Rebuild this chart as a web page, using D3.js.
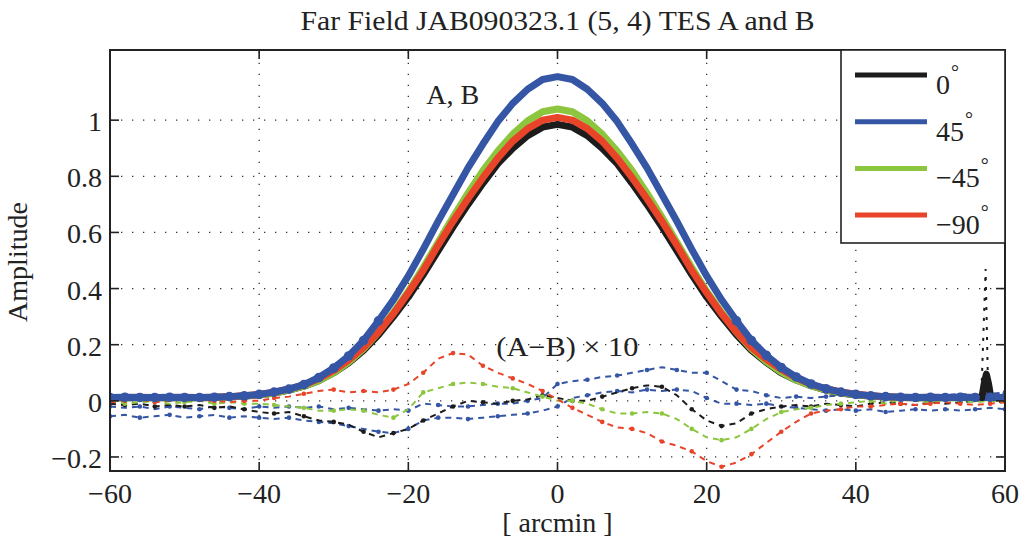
<!DOCTYPE html>
<html lang="en">
<head>
<meta charset="UTF-8">
<title>Far Field JAB090323.1 (5, 4) TES A and B</title>
<style>
    body{ margin:0; background:#fff; }
    svg text{ font-family:"Liberation Serif","Times New Roman",Times,serif; fill:#222; }
    .grid line{ stroke:#333; stroke-width:1.3; stroke-dasharray:1.3,9.7; }
    .frame{ fill:none; stroke:#222; stroke-width:2; }
    .tick{ stroke:#222; stroke-width:1.6; }
    .beam{ fill:none; stroke-width:7; stroke-linejoin:round; stroke-linecap:round; }
    .diff{ fill:none; stroke-width:2; stroke-dasharray:6,5; }
</style>
</head>
<body>
<svg width="1024" height="537"></svg>
<script src="https://d3js.org/d3.v7.min.js"></script>
<script>
// sample positions [arcmin]
var xs = d3.range(-60, 61, 2);

// beam amplitude, A and B, one array per rotation
var beam0 = [0.011,0.012,0.011,0.011,0.012,0.011,0.011,0.012,0.014,0.017,0.021,0.028,0.038,0.052,0.072,0.10,0.135,0.18,0.235,0.30,0.37,0.45,0.535,0.62,0.70,0.775,0.845,0.90,0.945,0.975,0.985,
             0.975,0.945,0.90,0.845,0.775,0.70,0.62,0.535,0.45,0.37,0.30,0.235,0.18,0.137,0.10,0.074,0.054,0.038,0.028,0.021,0.017,0.014,0.012,0.011,0.012,0.011,0.012,0.012,0.012,0.011];
var beam0Spike = [[56.9,0.012],[57.2,0.06],[57.5,0.095],[57.8,0.06],[58.1,0.012]];
var beam45 = [0.012,0.013,0.012,0.012,0.013,0.012,0.012,0.013,0.015,0.018,0.023,0.031,0.042,0.058,0.083,0.117,0.16,0.215,0.285,0.36,0.445,0.54,0.64,0.735,0.83,0.915,0.995,1.06,1.11,1.145,1.155,
              1.145,1.11,1.06,0.995,0.915,0.83,0.735,0.64,0.54,0.445,0.36,0.285,0.215,0.162,0.119,0.085,0.06,0.043,0.031,0.023,0.018,0.015,0.013,0.012,0.013,0.012,0.013,0.012,0.013,0.012];
var beamM45 = [0.011,0.011,0.012,0.011,0.011,0.012,0.011,0.012,0.014,0.017,0.021,0.028,0.038,0.052,0.072,0.10,0.138,0.185,0.245,0.315,0.39,0.475,0.565,0.655,0.74,0.82,0.89,0.95,0.998,1.03,1.04,
               1.03,0.998,0.95,0.89,0.82,0.74,0.655,0.565,0.475,0.39,0.315,0.245,0.185,0.14,0.102,0.074,0.053,0.039,0.029,0.022,0.017,0.014,0.012,0.011,0.012,0.011,0.011,0.012,0.011,0.011];
var beamM90 = [0.012,0.012,0.013,0.012,0.012,0.013,0.012,0.013,0.015,0.018,0.023,0.031,0.042,0.057,0.079,0.108,0.145,0.19,0.245,0.31,0.385,0.465,0.555,0.64,0.72,0.795,0.865,0.925,0.97,1.0,1.01,
               1.0,0.97,0.925,0.865,0.795,0.72,0.64,0.555,0.465,0.385,0.31,0.245,0.19,0.148,0.112,0.082,0.059,0.043,0.032,0.024,0.018,0.015,0.013,0.012,0.013,0.012,0.012,0.013,0.012,0.012];

// (A-B) x 10
var diff0 = [-0.01,-0.015,-0.01,-0.02,-0.015,-0.02,-0.015,-0.025,-0.02,-0.03,-0.04,-0.045,-0.04,-0.055,-0.07,-0.075,-0.085,-0.11,-0.13,-0.115,-0.1,-0.07,-0.045,-0.02,0.0,-0.005,-0.01,0.0,0.005,0.02,0.01,
             0.0,0.0,0.015,0.03,0.045,0.055,0.05,0.02,-0.03,-0.07,-0.09,-0.08,-0.045,-0.03,-0.02,-0.015,-0.02,-0.01,-0.015,-0.02,-0.01,-0.005,-0.01,-0.015,-0.005,-0.01,-0.005,0.0,0.0,-0.005];
var diff0Spike = [[56.8,0.0],[57.4,0.47],[57.7,0.08],[58.4,0.0]];
var diff45a = [-0.02,-0.025,-0.02,-0.03,-0.02,-0.025,-0.03,-0.02,-0.025,-0.03,-0.02,-0.025,-0.02,-0.025,-0.02,-0.03,-0.025,-0.03,-0.035,-0.03,-0.035,-0.01,-0.015,-0.02,-0.02,-0.015,-0.01,-0.01,0.0,0.01,0.06,
               0.07,0.075,0.085,0.09,0.1,0.11,0.12,0.11,0.1,0.1,0.07,0.04,0.035,0.02,0.01,0.015,0.01,0.015,0.02,0.015,0.02,0.015,0.02,0.02,0.015,0.02,0.025,0.02,0.025,0.03];
var diff45b = [-0.055,-0.05,-0.06,-0.055,-0.05,-0.06,-0.055,-0.05,-0.06,-0.055,-0.06,-0.065,-0.06,-0.07,-0.075,-0.08,-0.09,-0.1,-0.11,-0.115,-0.1,-0.07,-0.06,-0.06,-0.065,-0.06,-0.055,-0.05,-0.045,-0.035,-0.02,
               0.01,0.02,0.03,0.035,0.03,0.04,0.035,0.04,0.035,0.01,-0.01,-0.01,-0.015,-0.01,-0.02,-0.025,-0.03,-0.035,-0.03,-0.035,-0.03,-0.04,-0.035,-0.03,-0.035,-0.03,-0.035,-0.03,-0.025,-0.03];
var diffM45 = [0.0,-0.01,-0.005,0.0,-0.01,-0.005,0.0,-0.01,-0.005,-0.01,-0.01,-0.015,-0.02,-0.025,-0.035,-0.035,-0.03,-0.035,-0.05,-0.06,-0.03,0.03,0.045,0.06,0.065,0.06,0.05,0.045,0.03,0.015,0.0,
               0.0,-0.01,-0.03,-0.045,-0.045,-0.04,-0.045,-0.065,-0.1,-0.13,-0.14,-0.13,-0.1,-0.065,-0.04,-0.03,-0.025,-0.015,-0.01,-0.005,0.0,-0.01,0.005,0.0,-0.005,0.005,0.0,-0.005,0.0,-0.005];
var diffM90 = [-0.005,0.0,0.005,-0.005,0.0,0.005,0.0,0.0,-0.005,0.0,0.0,0.01,0.015,0.025,0.035,0.04,0.03,0.035,0.03,0.04,0.06,0.1,0.15,0.17,0.165,0.125,0.1,0.08,0.06,0.035,0.005,
               -0.025,-0.05,-0.075,-0.095,-0.1,-0.115,-0.145,-0.16,-0.18,-0.215,-0.235,-0.22,-0.19,-0.15,-0.11,-0.075,-0.045,-0.035,-0.03,-0.02,-0.02,-0.015,-0.01,-0.015,-0.01,-0.005,-0.01,-0.015,-0.01,-0.005];

var legendLabels = ["0", "45", "\u221245", "\u221290"];
var colors = {k:"#1c1c1c", b:"#3555a5", g:"#8cc63e", r:"#e8442a"};
var xTicks = [-60, -40, -20, 0, 20, 40, 60];
var yTicks = [-0.2, 0, 0.2, 0.4, 0.6, 0.8, 1];

var svg = d3.select("svg"),
    margin = {top: 50, right: 19, bottom: 66, left: 110},
    width = +svg.attr("width") - margin.left - margin.right,
    height = +svg.attr("height") - margin.top - margin.bottom;

var x = d3.scaleLinear().domain([-60, 60]).range([0, width]);
var y = d3.scaleLinear().domain([-0.25, 1.25]).range([height, 0]);

var g = svg.append("g").attr("transform", "translate(" + margin.left + "," + margin.top + ")");

g.append("clipPath").attr("id", "clip")
    .append("rect").attr("width", width).attr("height", height);

// dotted grid
var grid = g.append("g").attr("class", "grid");
grid.selectAll(".gx").data(xTicks.slice(1, -1)).enter().append("line")
    .attr("x1", function(d){ return x(d); }).attr("x2", function(d){ return x(d); })
    .attr("y1", height).attr("y2", 0);
grid.selectAll(".gy").data(yTicks).enter().append("line")
    .attr("y1", function(d){ return y(d); }).attr("y2", function(d){ return y(d); })
    .attr("x1", 0).attr("x2", width);

var plot = g.append("g").attr("clip-path", "url(#clip)");

var line = d3.line()
    .x(function(d){ return x(d[0]); })
    .y(function(d){ return y(d[1]); });

function pairs(vals){ return xs.map(function(v, i){ return [v, vals[i]]; }); }

// difference traces
var diffs = [
    {vals: diff45a, c: colors.b},
    {vals: diff45b, c: colors.b},
    {vals: diff0, c: colors.k},
    {vals: diffM45, c: colors.g},
    {vals: diffM90, c: colors.r}
];
diffs.forEach(function(s){
    var pts = pairs(s.vals);
    plot.append("path").attr("class", "diff").attr("stroke", s.c).attr("d", line(pts));
    plot.selectAll(null).data(pts.filter(function(d, i){ return i % 2 === (s.c === colors.b ? 0 : 1); }))
        .enter().append("circle")
        .attr("cx", function(d){ return x(d[0]); })
        .attr("cy", function(d){ return y(d[1]); })
        .attr("r", 2.3).attr("fill", s.c);
});
plot.append("path").attr("class", "diff").attr("stroke", colors.k)
    .style("stroke-dasharray", "3,7").attr("d", line(diff0Spike));

// beams
var beams = [
    {vals: beam0, c: colors.k},
    {vals: beamM45, c: colors.g},
    {vals: beamM90, c: colors.r},
    {vals: beam45, c: colors.b}
];
beams.forEach(function(s){
    plot.append("path").attr("class", "beam").attr("stroke", s.c).attr("d", line(pairs(s.vals)));
});
plot.append("path").attr("class", "beam").attr("stroke", colors.k).attr("stroke-width", 5)
    .attr("d", line(beam0Spike));
plot.selectAll(".bdot").data(pairs(beam45).filter(function(d){ return Math.abs(d[0]) >= 24; }))
    .enter().append("circle")
    .attr("cx", function(d){ return x(d[0]); })
    .attr("cy", function(d){ return y(d[1]); })
    .attr("r", 4.8).attr("fill", colors.b);

// annotations
g.append("text").attr("x", x(-17.6)).attr("y", y(1.24) + 51).attr("font-size", 27)
    .attr("textLength", 53).attr("lengthAdjust", "spacingAndGlyphs").text("A, B");
g.append("text").attr("x", x(-8.2)).attr("y", y(0.158)).attr("font-size", 27)
    .attr("textLength", 142).attr("lengthAdjust", "spacingAndGlyphs").text("(A\u2212B) \u00d7 10");

// frame and inward ticks
g.append("rect").attr("class", "frame").attr("width", width).attr("height", height);
var tk = 9;
xTicks.forEach(function(t){
    g.append("line").attr("class", "tick").attr("x1", x(t)).attr("x2", x(t)).attr("y1", height).attr("y2", height - tk);
    g.append("line").attr("class", "tick").attr("x1", x(t)).attr("x2", x(t)).attr("y1", 0).attr("y2", tk);
    g.append("text").attr("x", x(t)).attr("y", height + 32).attr("text-anchor", "middle")
        .attr("font-size", 28).text(t < 0 ? "\u2212" + Math.abs(t) : t);
});
yTicks.forEach(function(t){
    g.append("line").attr("class", "tick").attr("y1", y(t)).attr("y2", y(t)).attr("x1", 0).attr("x2", tk);
    g.append("line").attr("class", "tick").attr("y1", y(t)).attr("y2", y(t)).attr("x1", width).attr("x2", width - tk);
    g.append("text").attr("x", -8).attr("y", y(t) + 11).attr("text-anchor", "end")
        .attr("font-size", 28).text(t < 0 ? "\u2212" + Math.abs(t) : t);
});

// legend
var leg = g.append("g").attr("transform", "translate(" + (width - 164) + ",0)");
leg.append("rect").attr("width", 164).attr("height", 193).attr("fill", "#fff")
    .attr("stroke", "#222").attr("stroke-width", 1.6);
var legColors = [colors.k, colors.b, colors.g, colors.r];
legendLabels.forEach(function(lab, i){
    var ly = 25 + i * 46.7;
    leg.append("line").attr("x1", 14).attr("x2", 86).attr("y1", ly).attr("y2", ly)
        .attr("stroke", legColors[i]).attr("stroke-width", 5);
    var t = leg.append("text").attr("x", 95).attr("y", ly + 19).attr("font-size", 28);
    t.append("tspan").text(lab);
    t.append("tspan").attr("dx", 1).attr("dy", -15).attr("font-size", 20).text("\u00b0");
});

// titles
svg.append("text").attr("x", margin.left + width / 2).attr("y", 30).attr("text-anchor", "middle")
    .attr("font-size", 28).attr("textLength", 514).attr("lengthAdjust", "spacingAndGlyphs")
    .text("Far Field JAB090323.1 (5, 4) TES A and B");
svg.append("text").attr("x", margin.left + width / 2).attr("y", 532).attr("text-anchor", "middle")
    .attr("font-size", 28).text("[ arcmin ]");
svg.append("text").attr("transform", "translate(27,262) rotate(-90)")
    .attr("text-anchor", "middle").attr("font-size", 28).text("Amplitude");
</script>
</body>
</html>
